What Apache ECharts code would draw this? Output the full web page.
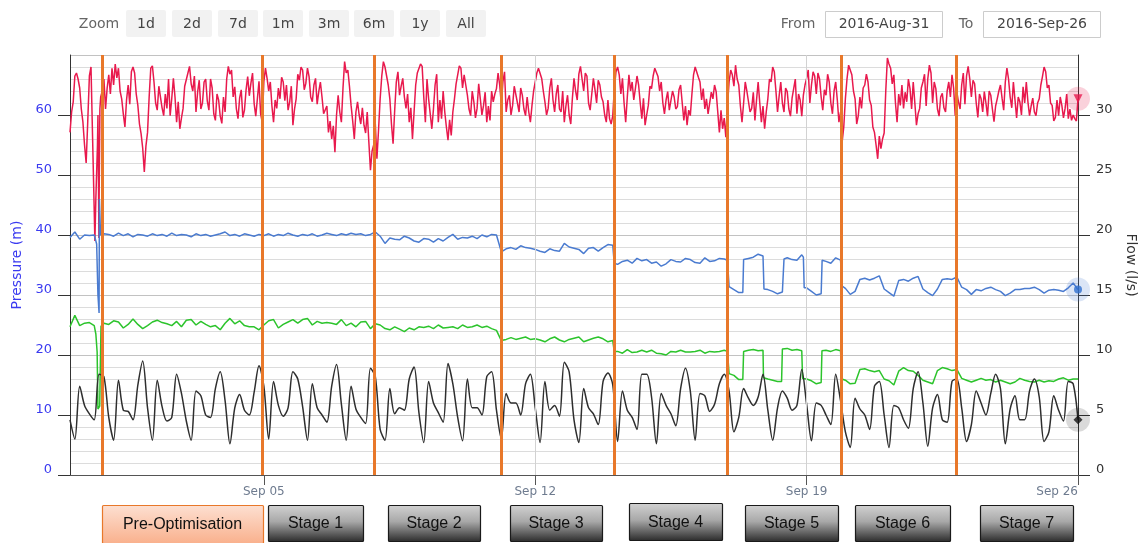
<!DOCTYPE html>
<html><head><meta charset="utf-8">
<script src="https://cdn.jsdelivr.net/npm/echarts@6/dist/echarts.min.js"></script>
<style>html,body{margin:0;padding:0;background:#fff;overflow:hidden;}#c{width:1140px;height:543px;}</style>
</head><body><div id="c"></div>
<script>
// ---------- DATA ----------
const startDate = '2016-08-31T00:00:00Z';
const endDate = '2016-09-26T00:00:00Z';
const xTickDates = ['2016-09-05T00:00:00Z','2016-09-12T00:00:00Z','2016-09-19T00:00:00Z','2016-09-26T00:00:00Z'];
const weekGridDates = ['2016-09-12T00:00:00Z','2016-09-19T00:00:00Z'];
const stageBoundaries = ['2016-08-31T19:40:00Z','2016-09-04T23:00:00Z','2016-09-07T20:25:00Z','2016-09-11T03:10:00Z',
  '2016-09-14T00:50:00Z','2016-09-16T22:55:00Z','2016-09-19T21:20:00Z','2016-09-22T20:55:00Z'];
const stageNames = ['Pre-Optimisation','Stage 1','Stage 2','Stage 3','Stage 4','Stage 5','Stage 6','Stage 7'];
const zoomButtons = ['1d','2d','7d','1m','3m','6m','1y','All'];
const fromText = '2016-Aug-31';
const toText = '2016-Sep-26';
const monthNames = ['Jan','Feb','Mar','Apr','May','Jun','Jul','Aug','Sep','Oct','Nov','Dec'];

// red: pressure (m), one row per day, hourly samples
const redStepHours = 1;
const redByDay = [
 [57.1,60.5,62.2,66.5,67.0,66.0,64.5,61.0,58.8,55.0,52.0,59.0,66.5,68.0,56.0,44.0,46.0,55.0,45.0,63.0,64.0,66.0,61.0,64.5],
 [66.7,63.5,67.8,65.0,68.5,66.2,67.8,64.0,62.7,60.2,58.0,62.5,65.0,61.8,67.2,68.0,67.0,63.5,61.6,58.5,56.9,54.5,50.5,54.8],
 [57.1,63.0,67.8,68.2,65.5,62.0,60.8,64.8,65.0,61.2,59.9,63.5,61.1,66.0,59.9,62.8,66.1,63.0,58.8,62.2,57.7,59.5,61.1,64.8],
 [65.0,67.0,68.1,65.2,64.0,66.5,60.5,63.8,65.8,61.0,62.0,65.5,66.0,62.3,60.8,66.0,64.5,60.2,59.1,63.5,62.5,59.8,58.6,63.0],
 [60.5,66.0,68.1,66.8,67.5,63.0,64.7,61.0,59.4,62.8,64.2,59.6,60.8,64.2,66.4,63.2,65.3,67.0,61.9,59.8,62.7,65.6,60.2,58.8],
 [65.5,67.8,66.1,64.0,65.5,61.5,58.8,62.5,61.1,64.5,62.7,66.3,65.5,62.4,65.0,60.8,62.2,64.8,58.3,61.0,62.7,66.8,65.8,68.0],
 [67.5,64.2,65.3,67.8,66.4,63.0,62.2,65.0,66.1,61.8,63.9,65.5,63.0,60.2,59.9,61.5,57.1,59.0,56.0,58.2,53.8,60.0,63.3,60.5],
 [58.8,64.5,68.9,67.0,67.5,64.8,61.6,59.0,56.0,60.5,62.2,60.0,58.5,61.2,58.3,57.0,60.5,55.5,50.8,54.0,55.0,58.5,52.7,57.5],
 [62.7,66.5,68.9,68.0,67.8,65.0,62.7,58.5,55.2,60.8,65.5,67.2,63.3,64.8,66.1,63.0,61.1,63.5,58.8,61.2,56.0,60.5,65.0,67.0],
 [66.7,68.5,68.1,63.0,58.8,66.0,62.7,60.2,57.7,61.0,65.0,66.8,58.8,62.5,59.4,64.0,60.5,58.0,55.8,59.2,56.6,60.5,62.7,65.2],
 [65.5,68.2,67.8,64.5,66.7,65.0,63.3,61.0,59.9,64.0,62.2,59.5,61.1,65.2,62.7,60.0,61.6,63.8,58.8,61.5,59.1,64.0,62.2,63.5],
 [64.4,67.0,65.0,61.8,65.5,67.2,60.5,62.5,63.3,60.0,61.6,64.8,65.0,62.0,60.5,64.5,63.3,61.0,59.9,63.0,60.5,58.8,61.6,64.0],
 [65.5,67.0,67.8,68.0,66.1,64.0,62.2,60.0,61.1,64.5,66.1,62.5,60.5,63.5,65.0,61.0,60.5,64.0,58.8,61.5,63.3,60.0,58.5,62.8],
 [66.1,64.0,62.5,66.8,68.1,66.0,64.0,67.0,66.5,62.0,60.8,63.5,66.1,64.2,62.0,65.8,65.0,63.0,62.2,60.0,58.8,62.5,59.4,58.5],
 [59.9,64.5,67.2,68.0,66.7,63.5,66.1,62.0,58.8,63.0,66.7,64.0,65.5,62.5,64.4,66.5,65.0,62.0,59.4,62.8,58.3,60.0,61.6,64.8],
 [64.4,66.5,67.8,68.1,66.4,64.0,65.5,62.0,60.2,62.5,63.9,60.8,60.5,64.0,63.0,61.0,61.4,64.2,65.0,62.0,59.1,61.5,58.3,60.8],
 [59.9,63.5,66.7,68.0,68.1,66.3,65.5,62.5,64.4,61.0,62.7,60.2,59.9,63.8,62.7,65.0,63.9,60.5,57.1,60.8,57.7,59.5,56.3,61.5],
 [65.5,67.5,66.7,64.8,68.3,66.0,65.0,61.5,58.8,62.0,65.5,64.0,63.9,60.5,61.1,63.8,59.1,62.5,65.5,62.0,58.8,61.5,57.7,60.5],
 [62.7,66.0,65.5,68.0,67.2,64.0,60.5,63.2,65.5,62.0,60.5,64.5,63.9,61.0,59.8,62.8,64.4,66.0,60.2,63.5,62.5,59.8,63.3,65.0],
 [66.1,67.5,62.0,65.0,67.2,66.5,63.5,67.0,66.0,63.0,60.8,64.2,63.3,66.8,65.5,62.0,60.2,64.0,65.5,62.5,58.8,60.5,55.5,58.0],
 [62.7,66.0,68.3,67.5,66.7,64.0,62.7,58.5,59.9,63.0,61.1,64.5,65.0,66.8,65.5,62.5,61.6,58.0,57.1,55.0,52.7,56.5,54.4,56.0],
 [57.0,64.0,69.5,68.5,67.8,65.2,66.7,62.0,58.8,63.5,61.6,65.0,61.1,63.8,62.2,66.0,64.4,61.0,65.5,62.0,58.3,60.2,61.1,64.5],
 [65.5,66.8,61.5,66.0,68.3,67.0,62.0,65.5,64.4,61.0,59.8,63.0,63.6,61.2,60.5,64.0,65.5,63.0,66.7,64.5,59.9,63.8,62.2,61.0],
 [65.0,67.0,61.8,66.5,68.1,66.0,63.0,65.8,65.2,62.0,59.6,63.5,62.7,60.5,63.9,62.0,59.8,64.0,63.3,61.0,58.9,61.5,62.7,64.0],
 [65.0,62.8,60.8,65.5,67.8,66.0,63.0,61.2,65.5,62.5,59.5,63.0,62.2,60.0,64.7,62.0,65.5,62.2,59.9,61.5,62.8,60.5,59.9,62.0],
 [62.7,65.0,66.4,68.0,67.2,64.5,65.0,62.0,61.6,59.0,59.6,62.5,59.9,63.0,61.6,59.5,61.1,63.5,59.4,61.0,59.1,60.0,59.4,59.0]
];
const redEnd = 62.7;
// extra readings (hours from start) around the Aug-31 disturbance
const redEventHours = [15.4, 17.3, 17.9, 18.5];
const redEventValues = [39.0, 60.0, 39.5, 61.0];

// blue: pressure (m), samples every 3 h
const otherStepHours = 3;
const blueByDay = [
 [39.6,40.5,39.3,40.0,39.9,40.0,27.0,40.2],
 [40.1,39.8,40.3,39.9,40.2,39.7,40.1,40.0],
 [39.8,40.2,39.9,40.1,39.8,40.3,39.9,40.1],
 [40.0,39.7,40.2,39.9,40.1,39.8,40.0,40.2],
 [40.5,39.9,40.1,39.8,40.2,40.0,39.8,40.1],
 [39.9,40.2,39.8,40.1,39.9,40.3,40.0,39.8],
 [40.1,39.9,40.2,39.8,40.0,40.3,40.1,39.9],
 [40.2,40.0,40.3,40.1,40.2,39.9,40.1,40.5],
 [39.8,38.6,39.5,39.3,39.2,39.8,39.5,39.0],
 [38.8,39.4,39.3,38.8,39.4,39.0,39.6,40.1],
 [39.3,39.6,39.5,39.8,39.4,40.0,39.7,40.1],
 [40.0,37.2,37.7,37.9,37.6,38.2,37.9,37.8],
 [37.6,37.3,37.1,37.7,37.4,37.3,38.6,38.0],
 [37.8,37.6,36.9,37.8,37.9,37.3,37.9,38.4],
 [38.3,35.1,35.6,35.8,35.3,36.1,35.7,35.9],
 [35.3,35.5,34.8,35.2,35.9,35.6,35.5,36.1],
 [35.9,35.4,35.3,36.2,35.6,35.7,36.1,36.0],
 [31.4,30.9,30.4,35.9,36.1,36.3,36.8,36.5],
 [30.9,30.6,30.2,30.5,36.2,35.9,35.8,36.7],
 [31.2,30.6,30.0,30.2,35.6,35.3,36.2,35.8],
 [31.1,30.1,30.6,32.6,32.8,32.5,32.8,33.2],
 [31.0,30.4,29.8,32.4,32.6,32.3,32.8,33.1],
 [31.0,30.4,29.9,31.0,32.6,32.7,32.6,33.0],
 [31.3,30.9,30.1,30.9,30.7,31.1,31.3,30.9],
 [30.6,29.9,30.3,30.9,30.9,31.1,31.1,31.3],
 [30.9,30.3,30.8,30.9,30.8,30.6,31.2,32.0]
];
const blueEnd = 30.9;
const blueEventHours = [16.5, 17.3, 18.2, 18.9, 336.9, 407.0, 416.5, 429.6, 442.0, 454.0, 454.5, 465.6, 477.6, 478.0];
const blueEventValues = [38.5, 30.0, 46.0, 40.0, 35.3, 35.8, 30.4, 31.0, 36.0, 36.3, 31.2, 35.8, 35.5, 31.5];

// green: pressure (m), samples every 3 h
const greenByDay = [
 [24.7,26.6,24.9,25.3,25.4,24.9,11.2,25.3],
 [25.1,25.7,25.5,24.5,25.1,26.0,25.1,24.4],
 [24.9,25.5,25.8,25.4,25.2,24.9,25.6,24.7],
 [25.8,25.9,25.0,25.6,25.1,24.7,24.9,24.2],
 [25.3,26.1,25.2,25.7,24.9,24.7,24.7,24.2],
 [25.0,25.7,25.9,24.5,25.1,25.5,25.9,25.3],
 [25.9,26.1,25.0,25.6,25.3,25.4,25.3,25.1],
 [25.9,24.9,25.3,24.7,25.5,25.6,24.4,25.2],
 [25.0,24.4,24.2,24.7,24.3,23.9,24.5,24.2],
 [24.7,24.6,24.8,24.4,25.0,24.5,24.6,24.7],
 [24.4,25.0,24.6,24.7,25.0,24.6,24.8,24.4],
 [24.1,22.4,22.6,22.9,22.6,22.8,23.0,22.6],
 [22.7,22.5,22.2,22.7,23.0,22.5,22.2,22.6],
 [22.8,23.0,22.2,22.5,22.8,23.0,22.7,22.2],
 [22.4,20.6,20.3,20.9,20.4,20.5,20.8,20.5],
 [20.8,20.3,20.2,20.0,20.6,20.5,20.8,20.5],
 [20.5,20.6,20.8,20.3,20.6,20.5,20.6,20.8],
 [16.9,16.6,15.9,20.6,20.8,20.9,20.7,20.8],
 [16.0,15.8,15.6,21.0,21.1,20.8,20.9,20.7],
 [16.0,15.7,15.2,15.4,20.8,20.6,20.9,20.7],
 [15.8,15.2,15.3,17.6,17.7,17.4,17.2,17.4],
 [16.0,15.7,15.0,17.3,17.9,17.4,17.3,16.6],
 [15.8,15.5,15.2,17.4,17.9,17.7,17.4,17.6],
 [16.1,15.8,15.5,15.8,16.1,15.8,15.9,15.5],
 [15.8,15.5,15.2,15.5,16.1,15.8,15.6,15.5],
 [15.8,15.5,15.7,15.6,16.0,16.2,15.8,16.0]
];
const greenEnd = 16.0;
const greenEventHours = [16.0, 16.8, 17.3, 18.4, 18.7, 19.2, 336.9, 407.0, 416.5, 429.3, 440.5, 453.5, 465.5, 477.8];
const greenEventValues = [23.5, 20.5, 11.0, 11.5, 17.0, 24.8, 20.6, 20.6, 15.9, 16.2, 15.6, 16.1, 20.7, 16.0];

// black: flow (l/s), samples every 3 h
const flowByDay = [
 [4.6,3.0,7.4,5.8,5.1,4.6,8.4,8.2],
 [4.8,2.9,7.9,5.4,5.3,4.6,7.5,9.5],
 [5.6,2.9,7.9,5.7,4.5,4.8,8.4,6.8],
 [4.5,2.9,7.0,6.6,5.0,4.8,7.2,8.6],
 [6.2,2.6,5.6,6.7,5.4,5.0,6.9,9.1],
 [7.4,3.0,7.8,5.8,4.9,5.6,8.6,8.0],
 [5.7,2.9,7.6,5.6,5.0,4.4,7.4,9.2],
 [5.9,2.9,7.4,5.5,4.8,4.3,8.9,8.2],
 [3.8,2.9,7.2,5.1,5.6,5.4,8.0,9.0],
 [5.2,2.7,7.8,6.0,5.2,4.4,9.3,7.6],
 [4.8,2.85,8.0,5.6,5.6,5.0,8.2,8.6],
 [5.4,3.0,6.8,6.0,6.0,5.0,7.6,8.4],
 [5.6,2.7,7.8,5.4,5.8,4.9,9.4,8.6],
 [4.6,2.7,7.2,5.6,5.1,4.2,7.8,8.5],
 [7.5,2.8,7.0,5.4,4.8,3.8,8.4,8.4],
 [6.5,2.6,6.8,5.8,5.1,4.1,7.2,8.9],
 [7.0,2.9,6.8,6.6,5.3,5.9,7.6,8.4],
 [7.0,3.6,4.8,7.2,6.4,5.8,6.5,8.4],
 [5.4,2.9,5.6,7.0,6.4,5.4,5.8,8.8],
 [5.9,2.85,6.0,5.8,5.0,4.2,8.4,6.2],
 [3.6,2.3,6.4,5.5,5.0,3.8,7.4,7.8],
 [5.0,2.3,5.8,5.6,4.6,3.9,7.2,8.6],
 [6.0,2.4,5.6,6.7,4.6,4.4,7.8,8.0],
 [5.6,2.8,4.2,7.0,6.0,5.0,6.8,8.4],
 [7.2,2.6,5.5,6.6,4.6,4.6,7.0,8.0],
 [6.5,2.8,3.6,6.6,5.4,4.5,7.8,7.6]
];
const flowEnd = 4.6;

// ---------- BUILD ----------
const HOUR = 3600000;
const T0 = Date.parse(startDate);
const T1 = Date.parse(endDate);
function buildSeries(byDay, endValue, step, evHours, evValues) {
  const pts = [];
  byDay.forEach((row, d) => row.forEach((v, k) => pts.push([T0 + (d * 24 + k * step) * HOUR, v])));
  pts.push([T1, endValue]);
  if (evHours) evHours.forEach((h, i) => pts.push([T0 + h * HOUR, evValues[i]]));
  pts.sort((a, b) => a[0] - b[0]);
  return pts;
}
const redData = buildSeries(redByDay, redEnd, redStepHours, redEventHours, redEventValues);
const blueData = buildSeries(blueByDay, blueEnd, otherStepHours, blueEventHours, blueEventValues);
const greenData = buildSeries(greenByDay, greenEnd, otherStepHours, greenEventHours, greenEventValues);
const flowData = buildSeries(flowByDay, flowEnd, otherStepHours);
const tickVals = xTickDates.map(s => Date.parse(s));

const C = {red:'#e8194d', blue:'#4a7bd0', green:'#2cc42c', black:'#2e2e2e', orange:'#e8782a', pBlue:'#3a3af0'};
const FONT = 'DejaVu Sans, Verdana, sans-serif';

function fmtDate(v) {
  const d = new Date(v);
  return monthNames[d.getUTCMonth()] + ' ' + String(d.getUTCDate()).padStart(2, '0');
}

// graphics: range selector + stage buttons
const graphics = [];
graphics.push({type:'text', x:99, y:24, style:{text:'Zoom', fill:'#666', font:'14px ' + FONT, align:'center', verticalAlign:'middle'}});
const zoomX = [126,172,218,263,309,354,400,446];
zoomButtons.forEach((b, i) => {
  graphics.push({type:'rect', shape:{x:zoomX[i], y:10, width:40, height:27, r:2}, style:{fill:'#f2f2f2'}});
  graphics.push({type:'text', x:zoomX[i] + 20, y:24, style:{text:b, fill:'#444', font:'14px ' + FONT, align:'center', verticalAlign:'middle'}});
});
graphics.push({type:'text', x:798, y:24, style:{text:'From', fill:'#666', font:'14px ' + FONT, align:'center', verticalAlign:'middle'}});
graphics.push({type:'rect', shape:{x:825.5, y:11.5, width:117, height:26}, style:{fill:'#fff', stroke:'#cccccc', lineWidth:1}});
graphics.push({type:'text', x:884, y:24.5, style:{text:fromText, fill:'#444', font:'14px ' + FONT, align:'center', verticalAlign:'middle'}});
graphics.push({type:'text', x:966, y:24, style:{text:'To', fill:'#666', font:'14px ' + FONT, align:'center', verticalAlign:'middle'}});
graphics.push({type:'rect', shape:{x:983.5, y:11.5, width:117, height:26}, style:{fill:'#fff', stroke:'#cccccc', lineWidth:1}});
graphics.push({type:'text', x:1042, y:24.5, style:{text:toText, fill:'#444', font:'14px ' + FONT, align:'center', verticalAlign:'middle'}});

const btnBoxes = [[102,505,161,38],[268,505,95,36],[388,505,92,36],[510,505,92,36],[629,503,93,37],[745,505,93,36],[855,505,95,36],[980,505,93,36]];
stageNames.forEach((name, i) => {
  const [x, y, w, h] = btnBoxes[i];
  const pre = i === 0;
  const fill = pre
    ? new echarts.graphic.LinearGradient(0,0,0,1,[{offset:0,color:'#fde0d2'},{offset:1,color:'#f9b08c'}])
    : new echarts.graphic.LinearGradient(0,0,0,1,[{offset:0,color:'#d2d2d2'},{offset:0.45,color:'#a8a8a8'},{offset:1,color:'#2a2a2a'}]);
  graphics.push({type:'rect', shape:{x:x+0.5, y:y+0.5, width:w, height:h, r:1}, style:{fill:fill, stroke: pre ? '#e8782a' : '#1a1a1a', lineWidth:1.2}, z:10});
  graphics.push({type:'text', x:x + w/2, y:y + h/2 + 1, z:11, style:{text:name, fill:'#111', font:'16px Liberation Sans, Arial, sans-serif', align:'center', verticalAlign:'middle'}});
});

const chart = echarts.init(document.getElementById('c'));
const lineBase = {type:'line', showSymbol:false, symbol:'none', smooth:false, animation:false};
chart.setOption({
  animation:false,
  backgroundColor:'#ffffff',
  grid:{left:70, right:62, top:55, bottom:68, containLabel:false, outerBoundsMode:'none'},
  xAxis:{
    type:'value', min:T0, max:T1, scale:true,
    axisLine:{show:true, lineStyle:{color:'#555', width:1}},
    axisTick:{show:true, length:10, lineStyle:{color:'#555'}, customValues:tickVals},
    axisLabel:{customValues:tickVals, formatter:fmtDate, color:'#6e7b8f', fontSize:12, fontFamily:FONT, margin:11, alignMaxLabel:'right', showMaxLabel:true, showMinLabel:true},
    splitLine:{show:false}
  },
  yAxis:[
    {type:'value', min:0, max:70, interval:10, position:'left',
     name:'Pressure (m)', nameLocation:'middle', nameGap:46, nameRotate:90,
     nameTextStyle:{color:C.pBlue, fontSize:14, fontFamily:FONT},
     axisLine:{show:true, lineStyle:{color:'#333'}},
     axisTick:{show:true, length:12, lineStyle:{color:'#333'}},
     axisLabel:{color:C.pBlue, fontSize:13, fontFamily:FONT, margin:18, showMaxLabel:false, verticalAlign:'bottom', padding:[0,0,-1,0]},
     splitLine:{show:true, lineStyle:{color:'#c2c2c2', width:1}},
     minorTick:{show:false, splitNumber:5},
     minorSplitLine:{show:true, lineStyle:{color:'#dcdcdc', width:1}}},
    {type:'value', min:0, max:35, interval:5, position:'right',
     name:'Flow (l/s)', nameLocation:'middle', nameGap:44, nameRotate:-90,
     nameTextStyle:{color:'#333', fontSize:14, fontFamily:FONT},
     axisLine:{show:true, lineStyle:{color:'#333'}},
     axisTick:{show:true, length:12, lineStyle:{color:'#333'}},
     axisLabel:{color:'#333', fontSize:13, fontFamily:FONT, margin:18, showMaxLabel:false, verticalAlign:'bottom', padding:[0,0,-1,0]},
     splitLine:{show:false}}
  ],
  series:[
    {type:'line', data:[], z:1, silent:true,
     markLine:{silent:true, symbol:['none','none'], label:{show:false}, animation:false,
       lineStyle:{color:'#d2d2d2', width:1, type:'solid'},
       data: weekGridDates.map(s => ({xAxis: Date.parse(s)}))}},
    Object.assign({}, lineBase, {name:'Inlet pressure', yAxisIndex:0, data:redData, z:3, lineStyle:{color:C.red, width:1.5}, itemStyle:{color:C.red}}),
    Object.assign({}, lineBase, {name:'Outlet pressure', yAxisIndex:0, data:blueData, z:3, lineStyle:{color:C.blue, width:1.5}, itemStyle:{color:C.blue}}),
    Object.assign({}, lineBase, {name:'Critical point pressure', yAxisIndex:0, data:greenData, z:3, lineStyle:{color:C.green, width:1.5}, itemStyle:{color:C.green}}),
    Object.assign({}, lineBase, {name:'Flow', yAxisIndex:1, data:flowData, z:3, smooth:0.3, lineStyle:{color:C.black, width:1.5}, itemStyle:{color:C.black}}),
    {type:'line', data:[], z:6, silent:true,
     markLine:{silent:true, symbol:['none','none'], label:{show:false}, animation:false,
       lineStyle:{color:C.orange, width:3, type:'solid', opacity:1},
       data: stageBoundaries.map(s => ({xAxis: Date.parse(s)}))}},
    {type:'scatter', yAxisIndex:0, clip:false, silent:true, z:7, symbolSize:24, data:[[T1, redEnd],[T1, blueEnd]],
     itemStyle:{color:(p) => p.dataIndex === 0 ? 'rgba(232,25,77,0.25)' : 'rgba(74,123,208,0.25)'}},
    {type:'scatter', yAxisIndex:1, clip:false, silent:true, z:7, symbolSize:24, data:[[T1, flowEnd]], itemStyle:{color:'rgba(0,0,0,0.18)'}},
    {type:'scatter', yAxisIndex:0, clip:false, silent:true, z:8, symbol:'triangle', symbolRotate:180, symbolSize:9, data:[[T1, redEnd]], itemStyle:{color:C.red}},
    {type:'scatter', yAxisIndex:0, clip:false, silent:true, z:8, symbol:'circle', symbolSize:8, data:[[T1, blueEnd]], itemStyle:{color:'#2f6fd0'}},
    {type:'scatter', yAxisIndex:1, clip:false, silent:true, z:8, symbol:'diamond', symbolSize:9, data:[[T1, flowEnd]], itemStyle:{color:'#111'}}
  ],
  graphic: graphics
});
</script>
</body></html>
